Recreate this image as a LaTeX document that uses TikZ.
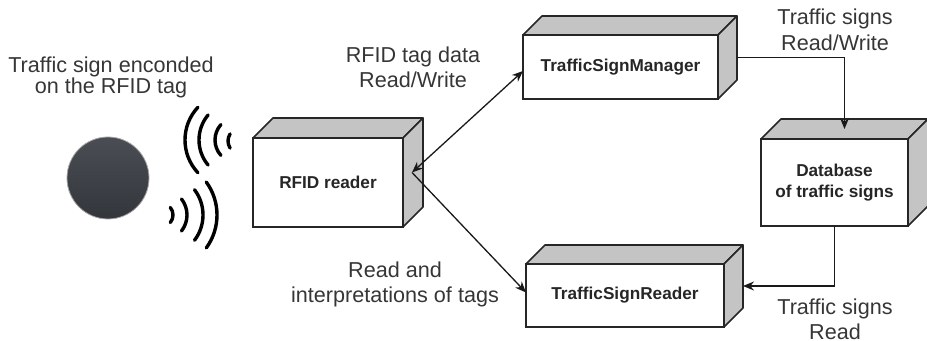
\documentclass[tikz,border=0pt]{standalone}
\usepackage{fontspec}
\setmainfont{Liberation Sans}
\usetikzlibrary{calc,arrows.meta}

\definecolor{edge}{HTML}{262626}
\definecolor{facegray}{HTML}{C4C4C4}
\definecolor{txt}{HTML}{363636}
\definecolor{tagtop}{HTML}{4A4E54}
\definecolor{tagbottom}{HTML}{33363B}

% top and right faces of a cuboid whose front face is node #1, depth #2
\newcommand\boxfaces[2]{%
  \draw[face] (#1.north west) -- ++(#2,-#2) -- ($(#1.north east)+(#2,-#2)$) -- (#1.north east) -- cycle;
  \draw[face] (#1.north east) -- ($(#1.north east)+(#2,-#2)$) -- ($(#1.south east)+(#2,-#2)$) -- (#1.south east) -- cycle;}

\begin{document}
\begin{tikzpicture}[x=0.5pt, y=-0.5pt,
  frontbox/.style={draw=edge, line width=0.8pt, fill=white, inner sep=0pt, outer sep=0pt,
    font=\bfseries\fontsize{8.6}{10.5}\selectfont, text=black!85, align=center},
  face/.style={draw=edge, line width=0.8pt, fill=facegray, line join=round},
  conn/.style={draw=black!90, line width=0.65pt},
  tip/.style={-{Stealth[length=5.5pt,width=4.5pt]}},
  lbl/.style={font=\fontsize{10.8}{12.5}\selectfont, text=txt, align=center, inner sep=0pt},
  wave/.style={line width=1.7pt, line cap=round}]

\useasboundingbox (0,0) rectangle (927,341);

% RFID tag
\shade[top color=tagtop, bottom color=tagbottom, draw=gray!70, line width=0.4pt]
  (108,178) circle[radius=41];
\node[lbl, font=\fontsize{10.8}{10.5}\selectfont] (tagtext) at (111,77) {Traffic sign enconded\\on the RFID tag};

% radio waves
\draw[wave] (233,140) ++(137:48) arc[start angle=137, end angle=223, radius=48];
\draw[wave] (238,140) ++(140:39) arc[start angle=140, end angle=220, radius=39];
\draw[wave] (238,140) ++(138:23) arc[start angle=138, end angle=222, radius=23];
\draw[wave] (241,141) ++(147:13) arc[start angle=147, end angle=213, radius=13];

\draw[wave] (161,215) ++(-39:12) arc[start angle=-39, end angle=39, radius=12];
\draw[wave] (161,215) ++(-38:26) arc[start angle=-38, end angle=38, radius=26];
\draw[wave] (161,215) ++(-37:42) arc[start angle=-37, end angle=37, radius=42];
\draw[wave] (161,215) ++(-36:56) arc[start angle=-36, end angle=36, radius=56];

% cuboids
\node[frontbox, minimum width=75pt, minimum height=44.5pt] (reader) at (328,182.5) {RFID reader};
\boxfaces{reader}{20}
\node[frontbox, minimum width=97.5pt, minimum height=32pt] (manager) at (620.5,67) {TrafficSignManager};
\boxfaces{manager}{19}
\node[frontbox, minimum width=73.5pt, minimum height=43.5pt] (db) at (834.5,182.5) {Database\\of traffic signs};
\boxfaces{db}{20}
\node[frontbox, minimum width=99pt, minimum height=31.5pt] (tsreader) at (625,295.5) {TrafficSignReader};
\boxfaces{tsreader}{19}

% connection points
\coordinate (rdport) at ($(reader.east)+(9,-10)$);
\coordinate (mgin) at ($(manager.west)+(0,4)$);
\coordinate (trin) at ($(tsreader.west)+(0,-3)$);
\coordinate (mgout) at ($(manager.east)+(19,-9.5)$);
\coordinate (dbin) at ($(db.north)+(10,-10)$);
\coordinate (trside) at ($(tsreader.east)+(19,-9.5)$);

% connectors
\draw[conn, {Stealth[length=5.5pt,width=4.5pt]}-{Stealth[length=5.5pt,width=4.5pt]}] (rdport) -- (mgin);
\draw[conn, tip] (rdport) -- (trin);
\draw[conn, tip] (mgout) -| (dbin);
\draw[conn, tip] (db.south) |- (trside);

% connector labels
\node[lbl] (rwlabel) at (413,67) {RFID tag data\\Read/Write};
\node[lbl, font=\fontsize{10.8}{13}\selectfont] (tsrwlabel) at (835,30) {Traffic signs\\Read/Write};
\node[lbl] (tsrlabel) at (835,319) {Traffic signs\\Read};
\node[lbl] (interplabel) at (395,284) {Read and\\interpretations of tags};
\end{tikzpicture}
\end{document}
